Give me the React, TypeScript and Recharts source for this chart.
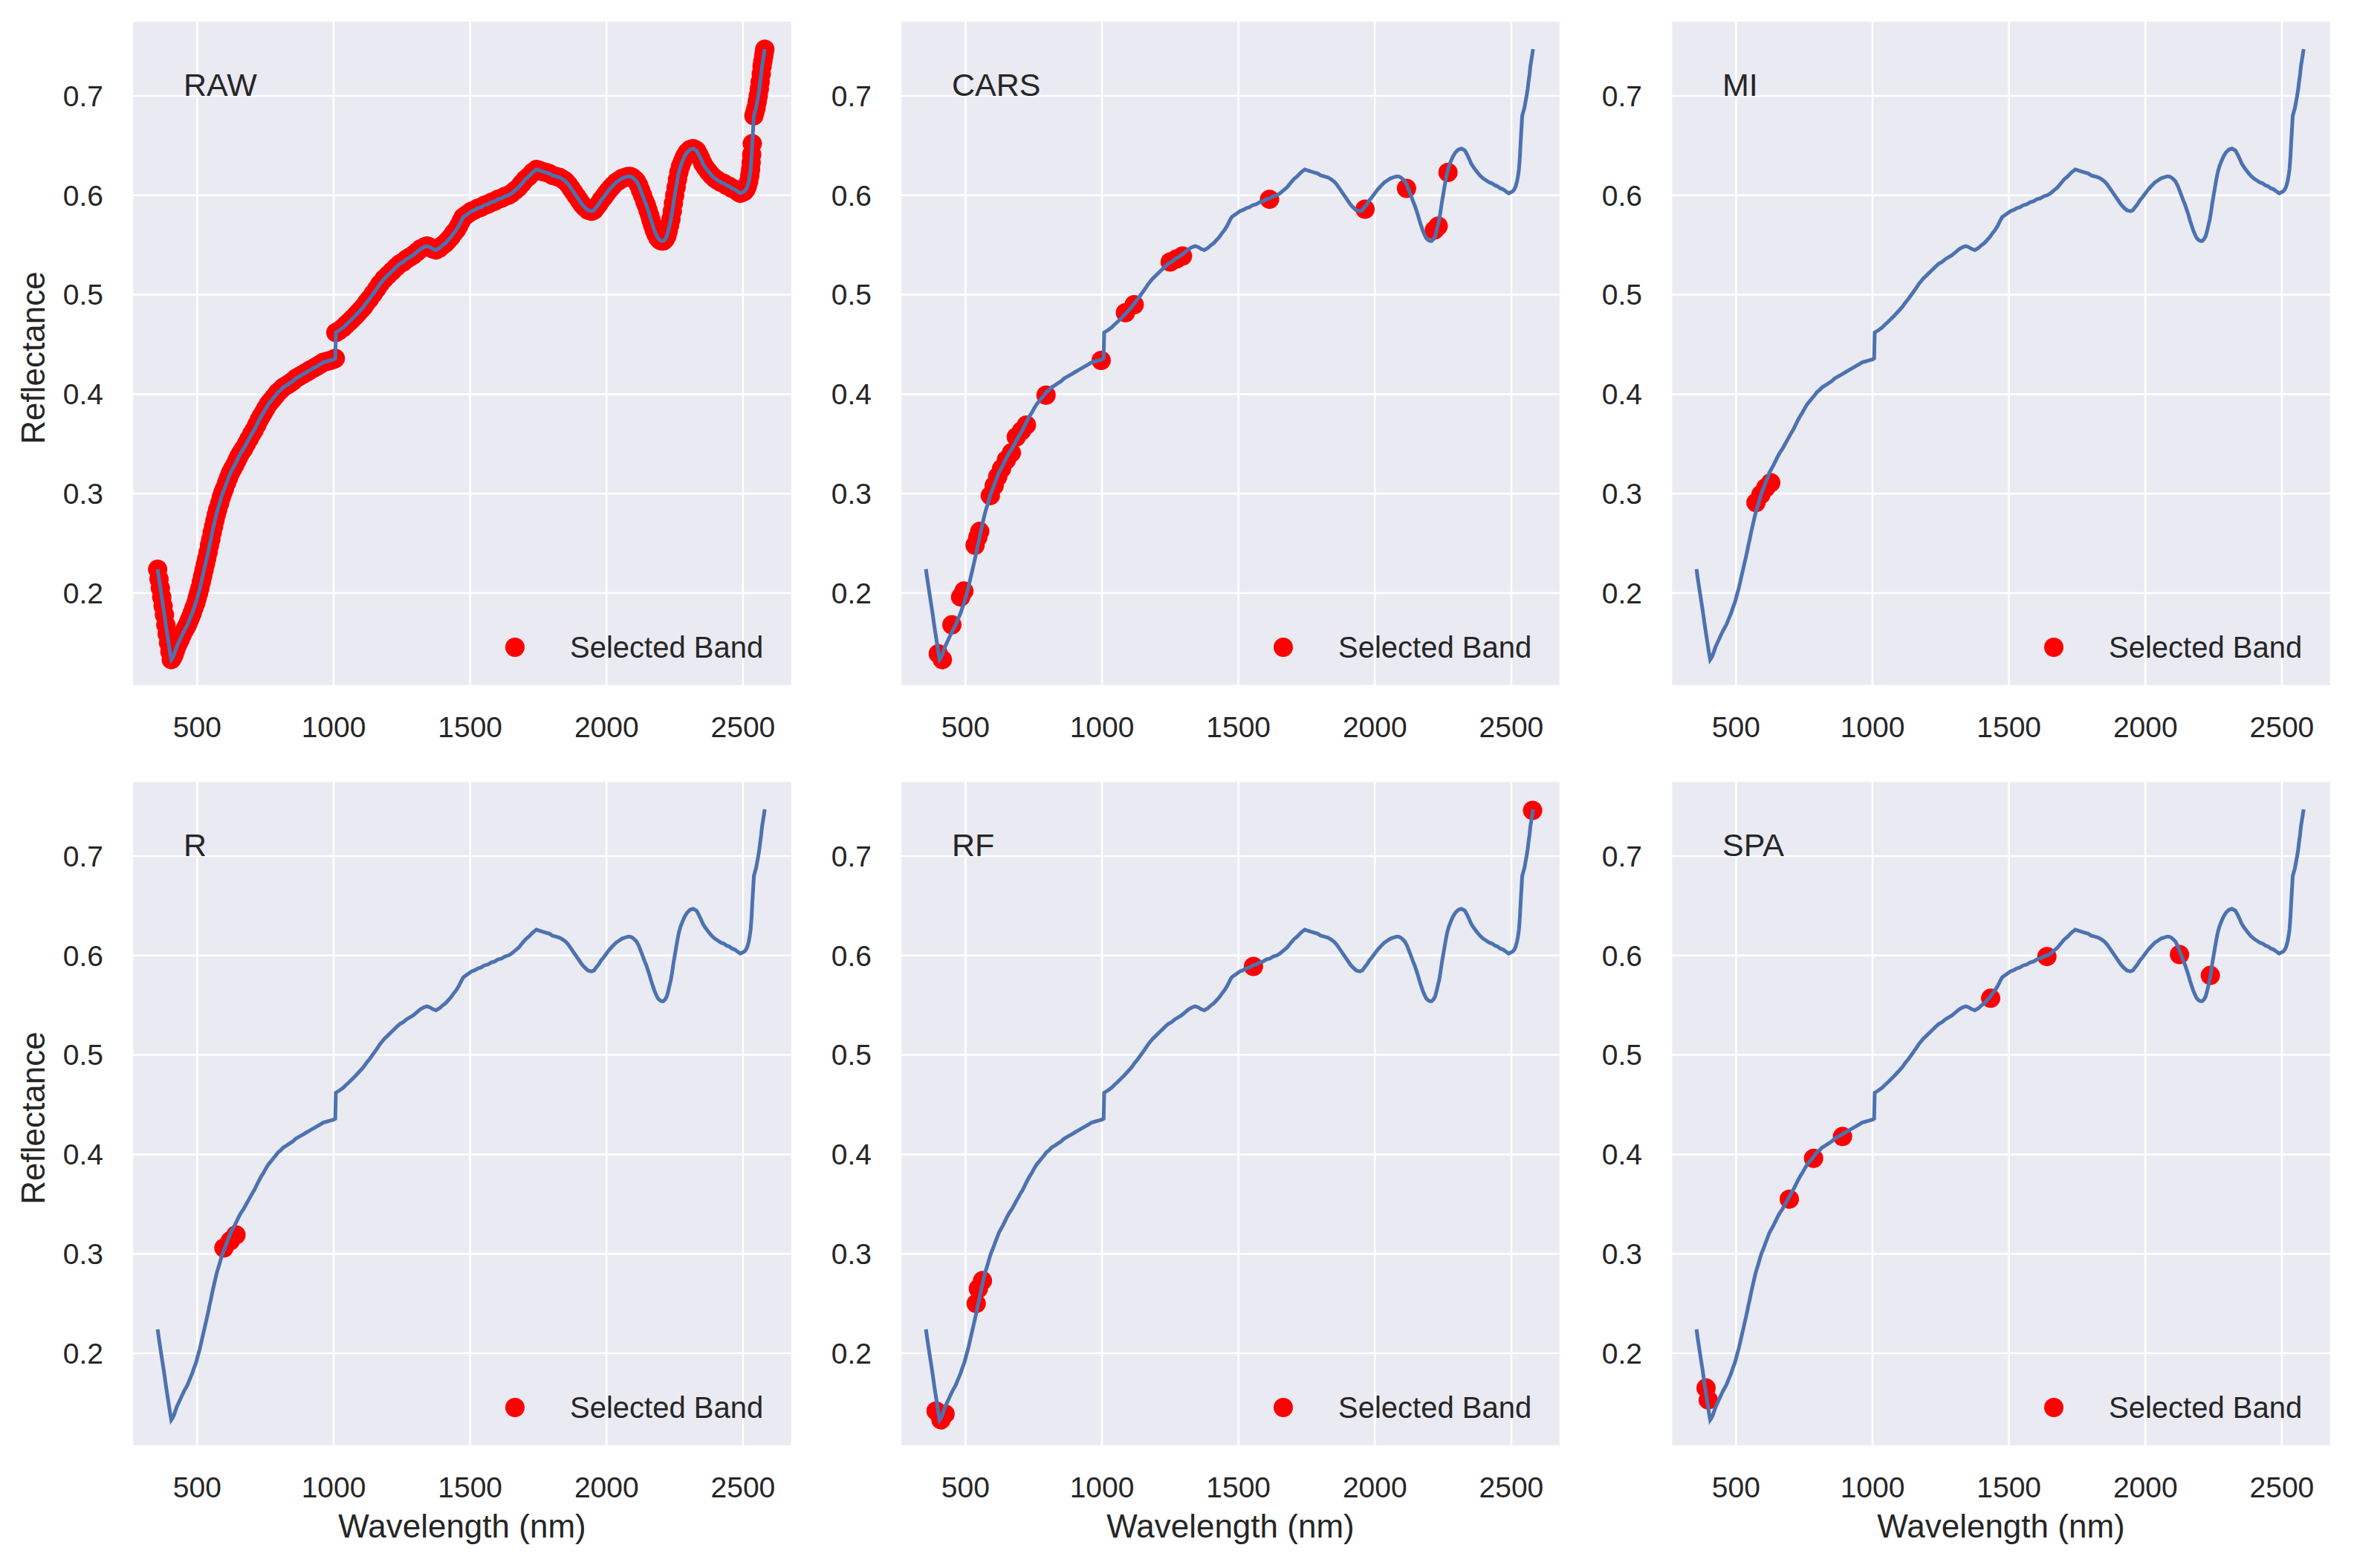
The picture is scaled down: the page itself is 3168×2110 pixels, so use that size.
import React from "react";
import { ComposedChart, Line, Scatter, XAxis, YAxis, CartesianGrid, ReferenceDot, Legend } from "recharts";

// reflectance spectrum: [wavelength nm, reflectance]
const CURVE: [number, number][] = [
  [355, 0.224], [360, 0.214], [365, 0.205], [370, 0.196], [375, 0.187], [380, 0.178],
  [385, 0.168], [390, 0.159], [395, 0.15], [400, 0.141], [405, 0.133], [410, 0.135],
  [415, 0.138], [420, 0.142], [425, 0.146], [430, 0.149], [435, 0.152], [440, 0.155],
  [445, 0.158], [452, 0.162], [458, 0.165], [464, 0.168], [470, 0.172], [476, 0.176],
  [482, 0.18], [488, 0.185], [495, 0.19], [500, 0.195], [505, 0.2], [510, 0.205],
  [515, 0.211], [520, 0.217], [525, 0.223], [530, 0.229], [535, 0.235], [540, 0.241],
  [545, 0.248], [550, 0.254], [555, 0.261], [560, 0.267], [565, 0.273], [570, 0.279],
  [575, 0.284], [582, 0.29], [588, 0.296], [594, 0.301], [600, 0.305], [608, 0.311],
  [615, 0.316], [622, 0.321], [630, 0.325], [638, 0.329], [645, 0.333], [652, 0.337],
  [660, 0.341], [670, 0.345], [680, 0.35], [690, 0.355], [700, 0.36], [709, 0.364],
  [718, 0.369], [727, 0.374], [735, 0.378], [744, 0.382], [752, 0.386], [761, 0.39],
  [770, 0.393], [779, 0.396], [788, 0.399], [796, 0.402], [805, 0.404], [816, 0.407],
  [828, 0.409], [839, 0.411], [850, 0.413], [862, 0.416], [875, 0.418], [888, 0.42],
  [900, 0.422], [912, 0.424], [925, 0.426], [938, 0.428], [950, 0.43], [962, 0.432],
  [975, 0.433], [988, 0.434], [1000, 0.435], [1006, 0.436], [1008, 0.462], [1020, 0.464],
  [1035, 0.467], [1046, 0.47], [1058, 0.473], [1069, 0.476], [1080, 0.479], [1090, 0.482],
  [1100, 0.485], [1110, 0.488], [1120, 0.492], [1132, 0.496], [1145, 0.501], [1158, 0.506],
  [1170, 0.511], [1185, 0.516], [1200, 0.52], [1215, 0.524], [1230, 0.528], [1242, 0.531],
  [1255, 0.533], [1268, 0.536], [1280, 0.538], [1292, 0.54], [1305, 0.543], [1318, 0.546],
  [1332, 0.548], [1342, 0.549], [1352, 0.548], [1364, 0.546], [1375, 0.545], [1388, 0.547],
  [1400, 0.55], [1410, 0.552], [1420, 0.555], [1430, 0.558], [1440, 0.562], [1449, 0.565],
  [1458, 0.569], [1467, 0.574], [1475, 0.578], [1485, 0.58], [1495, 0.582], [1505, 0.584],
  [1515, 0.585], [1528, 0.587], [1540, 0.588], [1552, 0.59], [1565, 0.591], [1578, 0.593],
  [1590, 0.594], [1602, 0.596], [1615, 0.597], [1628, 0.599], [1640, 0.6], [1652, 0.602],
  [1665, 0.605], [1678, 0.608], [1690, 0.612], [1702, 0.616], [1715, 0.619], [1729, 0.623],
  [1743, 0.626], [1754, 0.625], [1765, 0.624], [1778, 0.623], [1790, 0.622], [1802, 0.62],
  [1815, 0.619], [1828, 0.618], [1840, 0.616], [1850, 0.614], [1860, 0.611], [1870, 0.607],
  [1880, 0.603], [1890, 0.599], [1900, 0.595], [1910, 0.591], [1920, 0.588], [1932, 0.585],
  [1945, 0.584], [1954, 0.585], [1962, 0.588], [1971, 0.591], [1980, 0.595], [1989, 0.598],
  [1997, 0.601], [2005, 0.604], [2014, 0.607], [2024, 0.61], [2035, 0.613], [2046, 0.615],
  [2057, 0.617], [2068, 0.618], [2078, 0.619], [2087, 0.619], [2095, 0.618], [2103, 0.616],
  [2110, 0.614], [2118, 0.61], [2125, 0.605], [2132, 0.6], [2140, 0.594], [2146, 0.59],
  [2152, 0.585], [2158, 0.58], [2163, 0.575], [2169, 0.57], [2175, 0.565], [2181, 0.561],
  [2188, 0.557], [2195, 0.555], [2202, 0.554], [2208, 0.554], [2215, 0.556], [2221, 0.559],
  [2226, 0.564], [2231, 0.57], [2236, 0.576], [2241, 0.584], [2245, 0.592], [2250, 0.6],
  [2255, 0.608], [2260, 0.616], [2265, 0.623], [2271, 0.629], [2278, 0.634], [2286, 0.639],
  [2295, 0.643], [2306, 0.646], [2317, 0.647], [2324, 0.646], [2330, 0.645], [2338, 0.641],
  [2345, 0.637], [2353, 0.632], [2362, 0.628], [2373, 0.624], [2385, 0.62], [2397, 0.617],
  [2408, 0.615], [2419, 0.613], [2430, 0.612], [2440, 0.61], [2450, 0.609], [2460, 0.607],
  [2470, 0.606], [2480, 0.604], [2490, 0.602], [2498, 0.603], [2505, 0.604], [2511, 0.606],
  [2516, 0.609], [2521, 0.614], [2525, 0.62], [2528, 0.626], [2530, 0.633], [2532, 0.641],
  [2534, 0.652], [2540, 0.68], [2544, 0.684], [2548, 0.688], [2552, 0.694], [2556, 0.7],
  [2560, 0.707], [2563, 0.714], [2567, 0.722], [2570, 0.73], [2573, 0.735], [2576, 0.74],
  [2578, 0.744], [2580, 0.747],
];

// selected bands per method
const CARS: [number, number][] = [
  [400, 0.139], [415, 0.133], [450, 0.168], [482, 0.196], [494, 0.202], [535, 0.248],
  [545, 0.256], [552, 0.262], [591, 0.298], [605, 0.308], [618, 0.317], [632, 0.325],
  [650, 0.334], [668, 0.341], [686, 0.357], [705, 0.363], [723, 0.369], [795, 0.399],
  [997, 0.434], [1086, 0.482], [1118, 0.49], [1250, 0.533], [1273, 0.536], [1295, 0.539],
  [1614, 0.596], [1964, 0.586], [2116, 0.607], [2218, 0.565], [2232, 0.569], [2268, 0.623],
];
const MI: [number, number][] = [[573, 0.291], [591, 0.299], [609, 0.306], [627, 0.311]];
const R: [number, number][] = [[598, 0.306], [621, 0.313], [642, 0.319]];
const RF: [number, number][] = [
  [392, 0.142], [410, 0.133], [425, 0.139], [539, 0.25], [547, 0.265], [562, 0.273],
  [1555, 0.589], [2578, 0.746],
];
const SPA: [number, number][] = [
  [390, 0.165], [398, 0.153], [695, 0.355], [784, 0.396], [890, 0.418], [1433, 0.557],
  [1639, 0.599], [2125, 0.601], [2238, 0.58],
];

const X_TICKS = [500, 1000, 1500, 2000, 2500];
const Y_TICKS = [0.2, 0.3, 0.4, 0.5, 0.6, 0.7];

const toRows = (pts: [number, number][]) => pts.map(([wl, r]) => ({ wl, r }));

const FONT = "'Liberation Sans', Arial, sans-serif";
const TXT = "#262626";
const PW = 888;
const PH = 895;
const AXW = 178;
const PADT = 10;
const PADR = 20;
const AXH = 140;

const yLabel = (props: any) => {
  const vb = props.viewBox;
  const cx = vb.x + 44;
  const cy = vb.y + vb.height / 2 + 6;
  return (
    <text x={cx} y={cy} transform={`rotate(-90 ${cx} ${cy})`} textAnchor="middle" dominantBaseline="central"
      fontFamily={FONT} fontSize={44} fill={TXT}>Reflectance</text>
  );
};

const xLabel = (props: any) => {
  const vb = props.viewBox;
  return (
    <text x={vb.x + vb.width / 2} y={vb.y + 107} textAnchor="middle" dominantBaseline="central"
      fontFamily={FONT} fontSize={44} fill={TXT}>Wavelength (nm)</text>
  );
};

const LegendBox = () => (
  <div style={{ display: "flex", alignItems: "center", height: 50, fontFamily: FONT, fontSize: 40, color: TXT, lineHeight: 1 }}>
    <div style={{ width: 26, height: 26, borderRadius: "50%", background: "#FF0000", marginRight: 61 }} />
    <span>Selected Band</span>
  </div>
);

interface PanelProps {
  name: string;
  bands: [number, number][];
  left: number;
  top: number;
  yTitle?: boolean;
  xTitle?: boolean;
}

const Panel: React.FC<PanelProps> = ({ name, bands, left, top, yTitle, xTitle }) => {
  const dot = (p: any) => <circle cx={p.cx} cy={p.cy} r={13} fill="#FF0000" />;
  return (
    <div style={{ position: "absolute", left: left - AXW, top: top - PADT }}>
      <ComposedChart width={AXW + PW + PADR} height={PADT + PH + AXH} data={toRows(CURVE)}
        margin={{ top: PADT, right: PADR, left: 0, bottom: 0 }}>
        <CartesianGrid stroke="#FFFFFF" strokeWidth={2.5} fill="#EAEAF2" fillOpacity={1} />
        <XAxis dataKey="wl" type="number" domain={[262, 2680]} ticks={X_TICKS} allowDataOverflow height={AXH}
          axisLine={false} tickLine={false} tickSize={0} tickMargin={41}
          tick={{ fontSize: 39, fill: TXT, fontFamily: FONT }} label={xTitle ? xLabel : undefined} />
        <YAxis dataKey="r" type="number" domain={[0.1066, 0.7755]} ticks={Y_TICKS} allowDataOverflow width={AXW}
          axisLine={false} tickLine={false} tickSize={0} tickMargin={39} tickFormatter={(v) => Number(v).toFixed(1)}
          tick={{ fontSize: 39, fill: TXT, fontFamily: FONT }} label={yTitle ? yLabel : undefined} />
        <Scatter data={toRows(bands)} shape={dot} legendType="none" isAnimationActive={false} zIndex={400} />
        <Line dataKey="r" type="linear" stroke="#4C72B0" strokeWidth={5} dot={false} activeDot={false}
          legendType="none" isAnimationActive={false} zIndex={500} />
        <ReferenceDot x={450} y={0.7} r={0} fill="none" stroke="none"
          label={(p: any) => (
            <text x={p.viewBox.x} y={p.viewBox.y} fontFamily={FONT} fontSize={43} fill={TXT}>{name}</text>
          )} />
        <Legend layout="horizontal" verticalAlign="middle" align="center" content={LegendBox}
          wrapperStyle={{ left: AXW + 502, top: PADT + 843 - 25, width: 400, height: 50 }} />
      </ComposedChart>
    </div>
  );
};

const COLS = [178, 1212, 2249];
const ROWS = [28, 1051];

export default function App() {
  return (
    <div style={{ position: "absolute", left: 0, top: 0, width: 3168, height: 2110, background: "#FFFFFF", overflow: "hidden" }}>
      <Panel name="RAW" bands={CURVE} left={COLS[0]} top={ROWS[0]} yTitle />
      <Panel name="CARS" bands={CARS} left={COLS[1]} top={ROWS[0]} />
      <Panel name="MI" bands={MI} left={COLS[2]} top={ROWS[0]} />
      <Panel name="R" bands={R} left={COLS[0]} top={ROWS[1]} yTitle xTitle />
      <Panel name="RF" bands={RF} left={COLS[1]} top={ROWS[1]} xTitle />
      <Panel name="SPA" bands={SPA} left={COLS[2]} top={ROWS[1]} xTitle />
    </div>
  );
}
